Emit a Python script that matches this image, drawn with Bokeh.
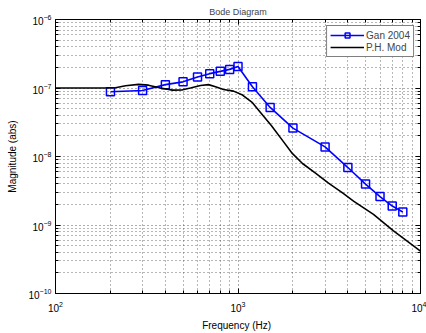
from bokeh.plotting import figure
from bokeh.models import FixedTicker, LogAxis, LogTickFormatter
from bokeh.embed import file_html
from bokeh.resources import INLINE

# Gan 2004 measurements
gan_freq = [200, 300, 400, 500, 600, 700, 800, 900, 1000, 1200, 1500, 2000,
            3000, 4000, 5000, 6000, 7000, 8000]
gan_mag = [8.8e-8, 9.2e-8, 1.12e-7, 1.23e-7, 1.45e-7, 1.62e-7, 1.75e-7, 1.87e-7,
           2.06e-7, 1.04e-7, 5.2e-8, 2.6e-8, 1.38e-8, 6.9e-9, 3.96e-9, 2.6e-9,
           1.89e-9, 1.55e-9]

# P.H. Mod model curve
ph_freq = [100, 176, 213, 242, 285, 323, 376, 438, 497, 549, 623, 689, 753, 833,
           945, 1059, 1200, 1328, 1526, 1753, 1989, 2256, 2659, 3133, 3739, 4295,
           5525, 7112, 10000]
ph_mag = [1.0e-7, 1.0e-7, 1.01e-7, 1.08e-7, 1.13e-7, 1.10e-7, 1.0e-7, 9.3e-8,
          9.4e-8, 1.0e-7, 1.09e-7, 1.12e-7, 1.04e-7, 9.5e-8, 9.0e-8, 7.9e-8,
          6.1e-8, 4.4e-8, 2.82e-8, 1.72e-8, 1.10e-8, 7.9e-9, 5.7e-9, 4.09e-9,
          2.94e-9, 2.23e-9, 1.43e-9, 8.2e-10, 4.16e-10]

x_major = [1e2, 1e3, 1e4]
y_major = [1e-10, 1e-9, 1e-8, 1e-7, 1e-6]

x_minor = [m * 10.0 ** k for k in (2, 3) for m in range(2, 10)]
y_minor = [m * 10.0 ** k for k in (-10, -9, -8, -7) for m in range(2, 10)]

FONT = "Liberation Sans"

p = figure(width=426, height=333, x_axis_type="log", y_axis_type="log",
           x_range=(1e2, 1e4), y_range=(1e-10, 1e-6),
           output_backend="svg", toolbar_location=None,
           min_border_left=55, min_border_right=6, min_border_top=19,
           min_border_bottom=36)

p.title.text = "Bode Diagram"
p.title.align = "center"
p.title.text_font = FONT
p.title.text_font_size = "9px"
p.title.text_font_style = "normal"
p.title.standoff = 6
p.title.offset = 0

p.outline_line_color = "black"
p.outline_line_width = 1

xt = FixedTicker(ticks=x_major, minor_ticks=x_minor)
yt = FixedTicker(ticks=y_major, minor_ticks=y_minor)
p.xaxis.ticker = xt
p.yaxis.ticker = yt

for ax in (p.xaxis[0], p.yaxis[0]):
    ax.major_tick_in = 5
    ax.major_tick_out = 0
    ax.minor_tick_in = 3
    ax.minor_tick_out = 0
    ax.axis_line_color = "black"
    ax.major_label_text_font = FONT
    ax.major_label_text_font_size = "10px"
    ax.major_label_text_color = "black"
    ax.axis_label_text_font = FONT
    ax.axis_label_text_font_size = "10px"
    ax.axis_label_text_font_style = "normal"
    ax.axis_label_text_color = "black"
    ax.major_label_standoff = 4

p.xaxis.axis_label = "Frequency  (Hz)"
p.yaxis.axis_label = "Magnitude (abs)"
p.xaxis.major_label_standoff = 7
p.xaxis.axis_label_standoff = 5
p.yaxis.axis_label_standoff = 8

for loc, tk in (("above", xt), ("right", yt)):
    a = LogAxis(ticker=tk, formatter=LogTickFormatter())
    a.major_tick_in = 5
    a.major_tick_out = 0
    a.minor_tick_in = 3
    a.minor_tick_out = 0
    a.major_label_text_font_size = "1px"
    a.major_label_text_color = None
    a.major_label_standoff = 0
    a.axis_line_color = "black"
    p.add_layout(a, loc)

for g in (p.xgrid[0], p.ygrid[0]):
    g.grid_line_color = "#303030"
    g.grid_line_dash = "1 3"
    g.grid_line_alpha = 0.8
    g.minor_grid_line_color = "#303030"
    g.minor_grid_line_dash = "1 3"
    g.minor_grid_line_alpha = 0.7

p.line(gan_freq, gan_mag, line_color="#0000ff", line_width=1.6, legend_label="Gan 2004")
p.scatter(gan_freq, gan_mag, marker="square", size=8, line_color="#0000ff",
          line_width=1.5, fill_color=None, legend_label="Gan 2004")
p.line(ph_freq, ph_mag, line_color="black", line_width=1.6, legend_label="P.H. Mod")

lg = p.legend[0]
lg.location = "top_right"
lg.margin = 6
lg.padding = 3
lg.spacing = 0
lg.glyph_width = 34
lg.glyph_height = 12
lg.label_standoff = 2
lg.label_text_font = FONT
lg.label_text_font_size = "10px"
lg.label_height = 12
lg.border_line_color = "black"
lg.border_line_width = 1
lg.background_fill_alpha = 1

open("out.html", "w").write(file_html(p, INLINE))
